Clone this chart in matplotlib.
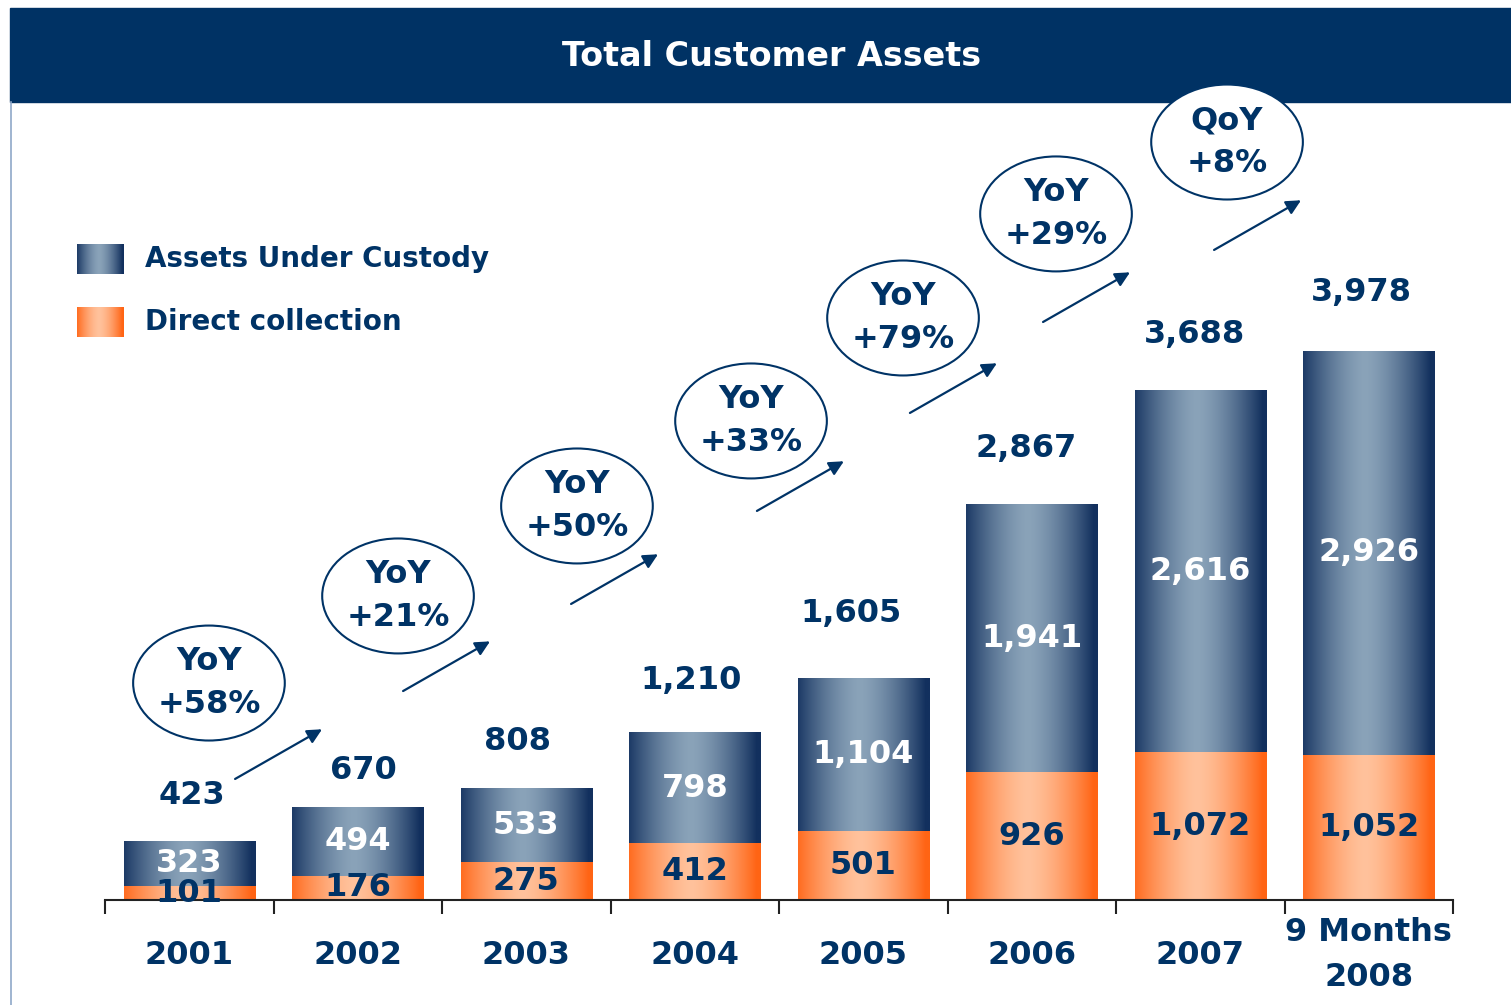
import numpy as np
import matplotlib
matplotlib.use('Agg')
import matplotlib.pyplot as plt
from matplotlib.patches import Ellipse, Rectangle
from matplotlib.lines import Line2D
from matplotlib.colors import to_rgb

# data
periods = ['2001', '2002', '2003', '2004', '2005', '2006', '2007', '9 Months\n2008']
direct = [101, 176, 275, 412, 501, 926, 1072, 1052]
custody = [323, 494, 533, 798, 1104, 1941, 2616, 2926]
totals = [423, 670, 808, 1210, 1605, 2867, 3688, 3978]
growth = ['YoY\n+58%', 'YoY\n+21%', 'YoY\n+50%', 'YoY\n+33%',
          'YoY\n+79%', 'YoY\n+29%', 'QoY\n+8%']

# bubble centres (data coords) and arrow start points
bubble_x = [0.117, 1.239, 2.301, 3.334, 4.236, 5.144, 6.159]
bubble_y = [1572, 2203, 2855, 3471, 4217, 4971, 5492]
arrow_x0 = [0.272, 1.269, 2.266, 3.369, 4.277, 5.067, 6.082]
arrow_y0 = [877, 1514, 2145, 2819, 3529, 4188, 4710]
# total label offsets above bar top (points)
total_dx = [2, 4, -6, -3, -9, -4, -4, -5]
total_dy = [33, 27, 34, 38, 47, 40, 41, 42]

NAVY = '#003366'
BAR_NAVY = ('#12305E', '#8AA3B9')
BAR_ORANGE = ('#FF6414', '#FFC29C')

W, H = 1511, 1005


def make_grad(c_dark, c_light, n=256):
    t = np.linspace(0, 1, n)
    w = np.clip(1 - (np.abs(t - 0.47) / 0.5) ** 1.5, 0, 1)
    d = np.array(to_rgb(c_dark))
    l = np.array(to_rgb(c_light))
    g = d[None, :] + (l - d)[None, :] * w[:, None]
    return g[None, :, :]


grad_navy = make_grad(*BAR_NAVY)
grad_orange = make_grad(*BAR_ORANGE)

fig = plt.figure(figsize=(W / 100, H / 100), dpi=100)

# title bar
fig.patches.append(Rectangle((10 / W, 1 - 102 / H), 1 - 10 / W, 94 / H,
                             transform=fig.transFigure, color='#003264', zorder=0))
fig.text(772 / W, 1 - 57 / H, 'Total Customer Assets', color='white',
         fontsize=24, fontweight='bold', ha='center', va='center')
fig.lines.append(Line2D([10.5 / W, 10.5 / W], [0, 1 - 102 / H], transform=fig.transFigure,
                        color='#8fa8c8', lw=1.2))

ax = fig.add_axes([105 / W, 105 / H, 1348 / W, 798 / H])
ax.set_zorder(3)
ax.patch.set_alpha(0)
x = np.arange(len(periods))
width = 0.78

b1 = ax.bar(x, direct, width=width, color='none', edgecolor='none')
b2 = ax.bar(x, custody, bottom=direct, width=width, color='none', edgecolor='none')
for rects, grad in ((b1, grad_orange), (b2, grad_navy)):
    for r in rects:
        x0, y0, w, h = r.get_x(), r.get_y(), r.get_width(), r.get_height()
        ax.imshow(grad, extent=[x0, x0 + w, y0, y0 + h], aspect='auto',
                  interpolation='bilinear', zorder=2)

for i in range(len(periods)):
    ax.text(x[i], direct[i] / 2, f'{direct[i]:,}', ha='center', va='center',
            color=NAVY, fontsize=23, fontweight='bold', zorder=4)
    ax.text(x[i], direct[i] + custody[i] / 2, f'{custody[i]:,}', ha='center', va='center',
            color='white', fontsize=23, fontweight='bold', zorder=4)
    ax.annotate(f'{totals[i]:,}', xy=(x[i], direct[i] + custody[i]),
                xytext=(total_dx[i], total_dy[i]),
                textcoords='offset points', ha='center', va='center',
                color=NAVY, fontsize=23, fontweight='bold')
    ax.text(x[i], -55 / 798, periods[i], transform=ax.get_xaxis_transform(),
            ha='center', va='center', color=NAVY, fontsize=23, fontweight='bold',
            linespacing=1.55)

# growth bubbles and arrows
for i in range(len(growth)):
    e = Ellipse((bubble_x[i], bubble_y[i]), 0.9, 833, facecolor='white',
                edgecolor=NAVY, lw=1.5, zorder=5, clip_on=False)
    ax.add_patch(e)
    ax.text(bubble_x[i], bubble_y[i], growth[i], ha='center', va='center',
            color=NAVY, fontsize=23, fontweight='bold', linespacing=1.5, zorder=6)
    ax.annotate('', xy=(arrow_x0[i] + 0.516, arrow_y0[i] + 360),
                xytext=(arrow_x0[i], arrow_y0[i]),
                arrowprops=dict(arrowstyle='-|>', color=NAVY, lw=1.6,
                                mutation_scale=22, shrinkA=0, shrinkB=0),
                annotation_clip=False)

ax.set_xlim(-0.5, 7.5)
ax.set_ylim(0, 5782)
for s in ['top', 'right', 'left']:
    ax.spines[s].set_visible(False)
ax.spines['bottom'].set_linewidth(1.5)
ax.spines['bottom'].set_color('#222222')
ax.set_xticks(np.arange(-0.5, 8, 1))
ax.tick_params(axis='x', length=10, width=1.5, color='#222222', labelbottom=False)
ax.set_yticks([])

# legend
for yy, grad, label in ((244, grad_navy, 'Assets Under Custody'),
                        (307, grad_orange, 'Direct collection')):
    la = fig.add_axes([77 / W, 1 - (yy + 30) / H, 47 / W, 30 / H])
    la.imshow(grad, aspect='auto', interpolation='bilinear')
    la.axis('off')
    fig.text(145 / W, 1 - (yy + 15) / H, label, color=NAVY, fontsize=20,
             fontweight='bold', ha='left', va='center')

fig.savefig('out.png', dpi=100)
